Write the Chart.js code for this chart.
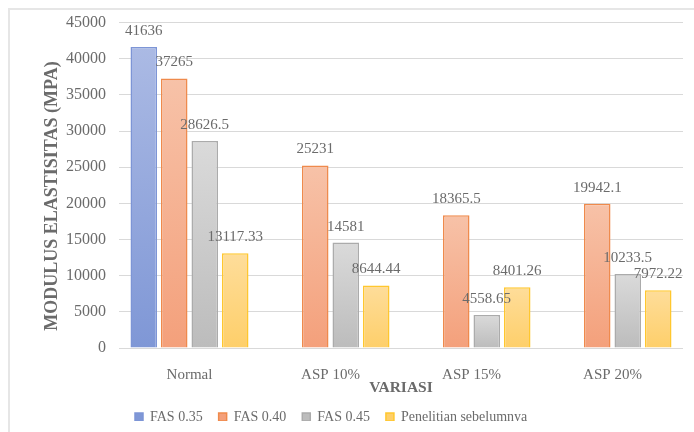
<!DOCTYPE html>
<html>
<head>
<meta charset="utf-8">
<script src="https://cdn.jsdelivr.net/npm/chart.js@4.4.0/dist/chart.umd.min.js"></script>
<style>
  html, body { margin: 0; padding: 0; background: #ffffff; }
  #wrap { position: relative; width: 694px; height: 432px; }
</style>
</head>
<body>
<div id="wrap"><canvas id="c"></canvas></div>
<script>
const categories = ['Normal', 'ASP 10%', 'ASP 15%', 'ASP 20%'];
const seriesNames = ['FAS 0.35', 'FAS 0.40', 'FAS 0.45', 'Penelitian sebelumnya'];
const fas035 = [41636, null, null, null];
const fas040 = [37265, 25231, 18365.5, 19942.1];
const fas045 = [28626.5, 14581, 4558.65, 10233.5];
const penelitian = [13117.33, 8644.44, 8401.26, 7972.22];
const yMin = 0, yMax = 45000, yStep = 5000;
const yTitle = 'MODULUS ELASTISITAS (MPA)';
const xTitle = 'VARIASI';

const FONT = "'Liberation Serif', 'Times New Roman', serif";
const TEXT = '#6b6b6b';

const palettes = [
  { top: '#abbae4', bottom: '#7f97d6', border: '#7d95d6' },
  { top: '#f7c2a8', bottom: '#f4a07b', border: '#ef8a4c' },
  { top: '#dadada', bottom: '#bcbcbc', border: '#ababab' },
  { top: '#fedd9a', bottom: '#fecf6a', border: '#ffc72e' }
];

function gradFill(i) {
  return function (ctx) {
    const p = palettes[i];
    if (ctx.type !== 'data' || ctx.raw == null) return p.bottom;
    const chart = ctx.chart;
    const y = chart.scales.y;
    if (!y) return p.bottom;
    const top = y.getPixelForValue(ctx.raw);
    const base = y.getPixelForValue(0);
    if (!isFinite(top) || !isFinite(base) || top === base) return p.bottom;
    const g = chart.ctx.createLinearGradient(0, top, 0, base);
    g.addColorStop(0, p.top);
    g.addColorStop(1, p.bottom);
    return g;
  };
}

const seriesData = [fas035, fas040, fas045, penelitian];
const datasets = seriesData.map((d, i) => ({
  label: seriesNames[i],
  data: d,
  backgroundColor: gradFill(i),
  borderColor: palettes[i].border,
  borderWidth: 1.5,
  categoryPercentage: 0.865,
  barPercentage: 0.87
}));

const frame = {
  id: 'frame',
  beforeDraw(chart) {
    const c = chart.ctx;
    c.save();
    c.strokeStyle = '#e6e6e6';
    c.lineWidth = 2;
    c.beginPath();
    c.moveTo(9, 432);
    c.lineTo(9, 9);
    c.lineTo(694, 9);
    c.stroke();
    c.restore();
  }
};

const labelsPlugin = {
  id: 'valueLabels',
  afterDatasetsDraw(chart) {
    const c = chart.ctx;
    c.save();
    c.font = "15px " + FONT;
    c.fillStyle = TEXT;
    c.textAlign = 'center';
    c.textBaseline = 'middle';
    chart.data.datasets.forEach((ds, di) => {
      const meta = chart.getDatasetMeta(di);
      meta.data.forEach((el, idx) => {
        const v = ds.data[idx];
        if (v == null) return;
        c.fillText(String(v), el.x, el.y - 16);
      });
    });
    c.restore();
  }
};

const yTitlePlugin = {
  id: 'yTitle',
  afterDraw(chart) {
    const c = chart.ctx;
    c.save();
    c.font = "bold 18px " + FONT;
    c.fillStyle = TEXT;
    c.textAlign = 'center';
    c.textBaseline = 'middle';
    c.translate(52, 196);
    c.rotate(-Math.PI / 2);
    c.fillText(yTitle, 0, 0);
    c.restore();
  }
};

const legendShift = {
  id: 'legendShift',
  afterLayout(chart) {
    const lg = chart.legend;
    if (!lg || !lg.lineWidths) return;
    const pad = lg.options.labels.padding;
    const start = (lg.left + pad + lg.right - lg.lineWidths[0]) / 2;
    const d = 135 - start;
    lg.left += d;
    lg.right += d;
    const h = lg.height;
    lg.top = 394;
    lg.bottom = lg.top + h;
  }
};

new Chart(document.getElementById('c'), {
  type: 'bar',
  data: { labels: categories, datasets: datasets },
  plugins: [frame, labelsPlugin, yTitlePlugin, legendShift],
  options: {
    responsive: true,
    maintainAspectRatio: false,
    animation: false,
    layout: { padding: { left: 0, right: 11, top: 20, bottom: 0 } },
    plugins: {
      tooltip: { enabled: false },
      legend: {
        position: 'bottom',
        maxHeight: 27,
        labels: {
          boxWidth: 8,
          boxHeight: 8,
          padding: 16,
          color: TEXT,
          font: { family: FONT, size: 14 }
        }
      }
    },
    scales: {
      x: {
        grid: { display: false },
        border: { display: false },
        ticks: { color: TEXT, font: { family: FONT, size: 15 }, padding: 10 },
        title: {
          display: true,
          text: xTitle,
          color: TEXT,
          font: { family: FONT, size: 15.5, weight: 'bold' },
          padding: { top: 0, bottom: 8 }
        },
        afterFit(scale) { scale.height = 57; }
      },
      y: {
        min: yMin,
        max: yMax,
        grid: { color: '#d9d9d9', lineWidth: 1, drawTicks: false },
        border: { display: false },
        ticks: {
          stepSize: yStep,
          color: TEXT,
          font: { family: FONT, size: 16 },
          padding: 13,
          callback: (v) => String(v)
        },
        afterFit(scale) { scale.width = 119; }
      }
    }
  }
});
</script>
</body>
</html>
